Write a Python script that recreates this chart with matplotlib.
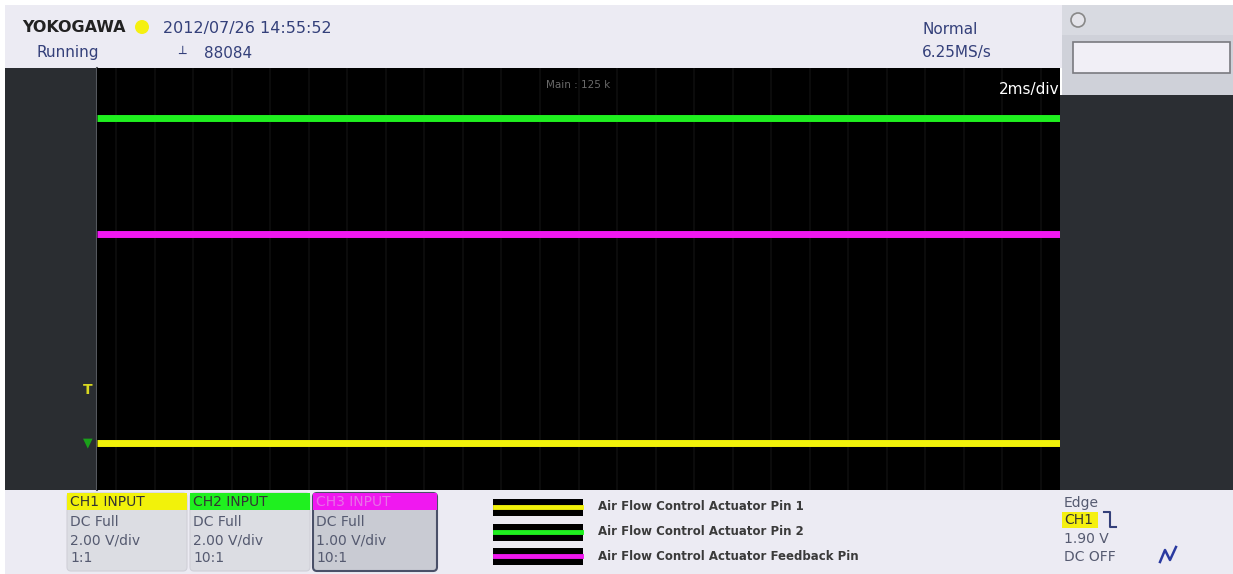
import matplotlib.pyplot as plt
import matplotlib.patches as mpatches
import numpy as np

#------------------------------------------------------------------------------
#                                   DATA
time_ms = [0, 20]                        # 10 div x 2 ms/div
channels = ['CH1', 'CH2', 'CH3']
trace_colors = ['#f2f20a', '#1ff01f', '#f018f0']
trace_levels = [-3.1, 3.05, 0.85]        # trace position in divisions
volts_per_div = ['2.00 V/div', '2.00 V/div', '1.00 V/div']
probe_ratio = ['1:1', '10:1', '10:1']
coupling = ['DC Full', 'DC Full', 'DC Full']
legend_labels = ['Air Flow Control Actuator Pin 1',
                 'Air Flow Control Actuator Pin 2',
                 'Air Flow Control Actuator Feedback Pin']
legend_order = [0, 1, 2]
header_left = ['YOKOGAWA', '2012/07/26 14:55:52', 'Running', '88084']
header_right = ['Normal', '6.25MS/s']
trigger_info = ['Edge', 'CH1', '1.90 V', 'DC OFF']

W, H = 1233, 574
fig = plt.figure(figsize=(W / 100, H / 100), dpi=100)
fig.patch.set_facecolor('white')

# background / frame drawn in pixel coordinates
bg = fig.add_axes([0, 0, 1, 1])
bg.set_xlim(0, W)
bg.set_ylim(H, 0)
bg.axis('off')

def rect(x, y, w, h, fc, ec='none', lw=0, z=1):
    bg.add_patch(mpatches.Rectangle((x, y), w, h, facecolor=fc, edgecolor=ec, linewidth=lw, zorder=z))

navy = '#34407a'
rect(5, 5, 1057, 63, '#ecebf3')            # header
rect(1062, 5, 171, 90, '#cfd1d9')          # right top panel
rect(1062, 5, 171, 30, '#d8dae1')
rect(1073, 42, 157, 31, '#f1eff6', ec='#7a7a80', lw=1.2, z=2)
bg.add_patch(mpatches.Circle((1078, 20), 7, facecolor='#e4e4ea', edgecolor='#888', lw=1.2, zorder=2))
rect(1060, 95, 173, 395, '#2b2e33')        # right dark panel
rect(5, 68, 92, 422, '#2a2d31')            # left strip
rect(5, 490, 1228, 84, '#ecebf3')          # bottom bar

# header texts
bg.text(22, 28, header_left[0], fontsize=11.5, fontweight='bold', color='#222', va='center')
bg.add_patch(mpatches.Circle((142, 27), 7, facecolor='#f5f010', edgecolor='none', zorder=2))
bg.text(163, 28, header_left[1], fontsize=11.5, color=navy, va='center')
bg.text(37, 53, header_left[2], fontsize=11, color=navy, va='center')
bg.text(178, 54, '\u2534', fontsize=9, color=navy, va='center')
bg.text(204, 53, header_left[3], fontsize=11, color=navy, va='center')
bg.text(922, 30, header_right[0], fontsize=11, color=navy, va='center')
bg.text(922, 52, header_right[1], fontsize=11, color=navy, va='center')

# scope screen
sc = fig.add_axes([97 / W, 1 - 490 / H, 963 / W, 422 / H])
sc.set_facecolor('black')
sc.set_xlim(time_ms)
sc.set_ylim(-4, 4)
for s in sc.spines.values():
    s.set_visible(False)
sc.set_xticks([])
sc.set_yticks([])
for xg in np.arange(0.4, 20, 0.8):
    sc.axvline(xg, color='#0e0e0e', lw=1.2, zorder=0)
for i in legend_order:
    sc.plot(time_ms, [trace_levels[i]] * 2, color=trace_colors[i], lw=5, solid_capstyle='butt', zorder=3)
sc.text(0.5, 0.96, 'Main : 125 k', transform=sc.transAxes, fontsize=7.5, color='#6a6a6a', ha='center', va='center')
sc.text(1.0, 0.95, '2ms/div', transform=sc.transAxes, fontsize=11, color='white', ha='right', va='center')
bg.axvline(96.5, ymin=1 - 490 / H, ymax=1 - 68 / H, color='#55585e', lw=1.5)

# level markers on the left strip
y_px = lambda d: 279 - d * 52.75
bg.text(88, y_px(trace_levels[0] + 1.0), 'T', fontsize=10, fontweight='bold', color='#d8d820', ha='center', va='center')
bg.text(88, y_px(trace_levels[0]), '\u25BC', fontsize=9, color='#1aa01a', ha='center', va='center')

# channel info boxes
box_x = [67, 190, 313]
box_w = [120, 120, 124]
for i, ch in enumerate(channels):
    x0 = box_x[i]
    selected = i == 2
    body = '#c9cbd3' if selected else '#dcdde3'
    bg.add_patch(mpatches.FancyBboxPatch((x0, 493), box_w[i], 78, boxstyle='round,pad=0,rounding_size=4',
                                         facecolor=body, edgecolor='#4a5068' if selected else '#d0d0d8',
                                         lw=1.5 if selected else 0.8, zorder=2))
    rect(x0, 493, box_w[i], 17, trace_colors[i], z=3)
    bg.text(x0 + 3, 502, ch + ' INPUT', fontsize=10, color='#e870e8' if selected else '#333',
            va='center', zorder=4)
    bg.text(x0 + 3, 522, coupling[i], fontsize=10, color='#555a70', va='center', zorder=4)
    bg.text(x0 + 3, 540, volts_per_div[i], fontsize=10, color='#555a70', va='center', zorder=4)
    bg.text(x0 + 3, 558, probe_ratio[i], fontsize=10, color='#555a70', va='center', zorder=4)

# legend swatches
for k, i in enumerate(legend_order):
    yc = 507 + k * 24.5
    rect(493, yc - 8, 90, 17, 'black', z=2)
    bg.plot([495, 581], [yc, yc], color=trace_colors[i], lw=3.5, zorder=3)
    bg.text(598, yc, legend_labels[i], fontsize=8.5, fontweight='bold', color='#3a3a3a', va='center')

# trigger info
bg.text(1064, 503, trigger_info[0], fontsize=10, color='#555a70', va='center')
rect(1062, 512, 36, 16, '#f5f010', z=2)
bg.text(1064, 520, trigger_info[1], fontsize=10, color='#333', va='center', zorder=3)
bg.plot([1104, 1110, 1110, 1116], [512, 512, 527, 527], color='#34407a', lw=1.5)
bg.text(1064, 539, trigger_info[2], fontsize=10, color='#555a70', va='center')
bg.text(1064, 557, trigger_info[3], fontsize=10, color='#555a70', va='center')
bg.plot([1160, 1165, 1170, 1176], [562, 550, 560, 547], color='#2a3aa0', lw=1.8)

fig.savefig('out.png', dpi=100)
